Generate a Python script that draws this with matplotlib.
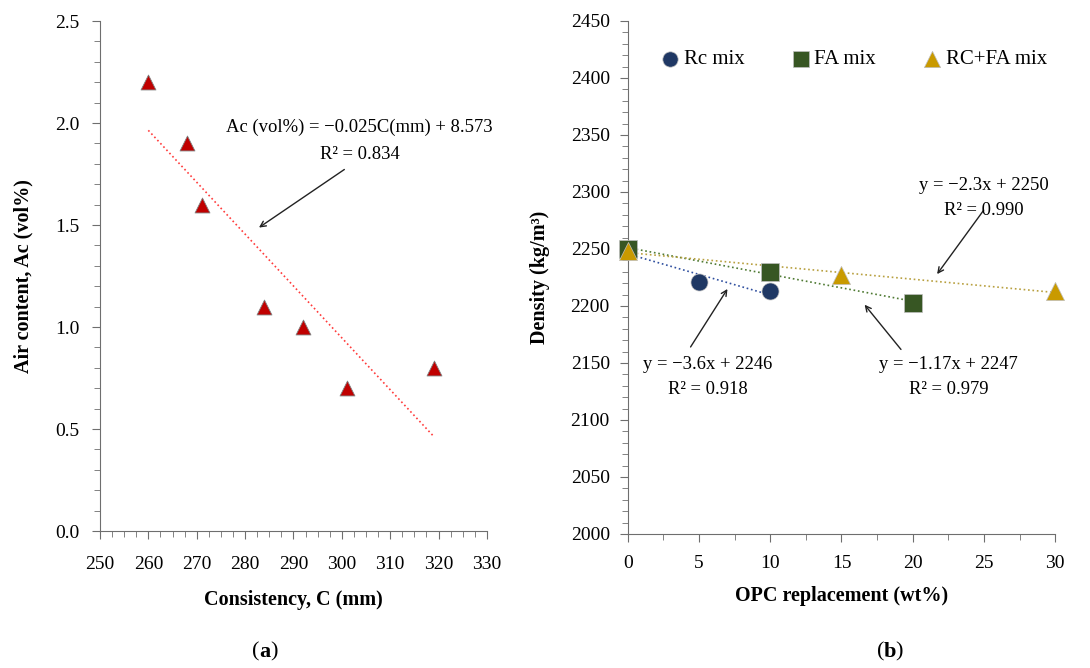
import numpy as np
import matplotlib.pyplot as plt
from matplotlib.ticker import MultipleLocator

plt.rcParams['font.family'] = ['Liberation Serif', 'DejaVu Serif']

# (a) consistency vs air content
consistency = [260, 268, 271, 284, 292, 301, 319]
air_content = [2.2, 1.9, 1.6, 1.1, 1.0, 0.7, 0.8]

# (b) density vs OPC replacement
rc_x = [0, 5, 10]
rc_y = [2249, 2221, 2213]
fa_x = [0, 10, 20]
fa_y = [2250, 2230, 2203]
rcfa_x = [0, 15, 30]
rcfa_y = [2248, 2227, 2213]

spine_col = '#6e6e6e'
fs = 14
afs = 13.4

fig = plt.figure(figsize=(10.9, 6.68), dpi=100)
ax1 = fig.add_axes([0.0917, 0.205, 0.355, 0.7635])
ax2 = fig.add_axes([0.576, 0.2006, 0.392, 0.768])

for ax in (ax1, ax2):
    ax.spines['top'].set_visible(False)
    ax.spines['right'].set_visible(False)
    ax.spines['left'].set_color(spine_col)
    ax.spines['bottom'].set_color(spine_col)
    ax.tick_params(which='both', direction='out', color=spine_col, labelsize=fs)
    ax.tick_params(which='major', length=6)
    ax.tick_params(which='minor', length=4)
ax1.tick_params(axis='x', which='both', pad=12)
ax1.tick_params(axis='y', which='both', pad=9)
ax2.tick_params(axis='x', which='both', pad=9)
ax2.tick_params(axis='y', which='both', pad=7)

# ---- (a)
ax1.scatter(consistency, air_content, marker='^', s=115, color='#c00000',
            edgecolor='#7f7f7f', linewidth=0.6, zorder=3)
k, b = np.polyfit(consistency, air_content, 1)
xs = np.array([min(consistency), max(consistency)])
ax1.plot(xs, k * xs + b, ':', color='#ff3b3b', lw=1.2)
ax1.set_xlim(250, 330)
ax1.set_ylim(0, 2.5)
ax1.xaxis.set_major_locator(MultipleLocator(10))
ax1.xaxis.set_minor_locator(MultipleLocator(2.5))
ax1.yaxis.set_major_locator(MultipleLocator(0.5))
ax1.yaxis.set_minor_locator(MultipleLocator(0.1))
ax1.yaxis.set_major_formatter(plt.FormatStrFormatter('%.1f'))
ax1.set_xlabel('Consistency, C (mm)', fontsize=14.5, fontweight='bold', labelpad=12)
ax1.set_ylabel('Air content, Ac (vol%)', fontsize=14.5, fontweight='bold', labelpad=15)
ax1.annotate('', xy=(282.4, 1.48), xytext=(301, 1.78),
             arrowprops=dict(arrowstyle='->', color='#222222', lw=1.0))
ax1.text(303.7, 1.98, 'Ac (vol%) = \u22120.025C(mm) + 8.573', fontsize=afs,
         ha='center', va='center')
ax1.text(303.7, 1.845, 'R\u00b2 = 0.834', fontsize=afs, ha='center', va='center')

# ---- (b)
series = [
    (rc_x, rc_y, 'o', '#1f3864', '#2f4f9f', 'Rc mix'),
    (fa_x, fa_y, 's', '#375623', '#4f7a33', 'FA mix'),
    (rcfa_x, rcfa_y, '^', '#c99a00', '#b8a040', 'RC+FA mix'),
]
for xv, yv, mk, col, lcol, lab in series:
    ax2.scatter(xv, yv, marker=mk, s=150 if mk != '^' else 170, color=col,
                edgecolor='#bfbfbf', linewidth=0.5, zorder=3, clip_on=False, label=lab)
    k, b = np.polyfit(xv, yv, 1)
    xs = np.array([min(xv), max(xv)])
    ax2.plot(xs, k * xs + b, ':', color=lcol, lw=1.2, zorder=2)

ax2.set_xlim(0, 30)
ax2.set_ylim(2000, 2450)
ax2.xaxis.set_major_locator(MultipleLocator(5))
ax2.xaxis.set_minor_locator(MultipleLocator(2.5))
ax2.yaxis.set_major_locator(MultipleLocator(50))
ax2.yaxis.set_minor_locator(MultipleLocator(10))
ax2.set_xlabel('OPC replacement (wt%)', fontsize=14.5, fontweight='bold', labelpad=10)
ax2.set_ylabel('Density (kg/m\u00b3)', fontsize=14.5, fontweight='bold', labelpad=15)
ax2.legend(loc='center', bbox_to_anchor=(0.528, 0.925), ncol=3, frameon=False,
           fontsize=15, handlelength=1.0, handletextpad=0.15, columnspacing=2.2,
           markerscale=0.9, borderpad=0)

arrow = dict(arrowstyle='->', color='#222222', lw=1.0)
ax2.annotate('', xy=(21.6, 2226), xytext=(25.1, 2286), arrowprops=arrow)
ax2.text(25.0, 2306, 'y = \u22122.3x + 2250', fontsize=afs, ha='center', va='center')
ax2.text(25.0, 2284, 'R\u00b2 = 0.990', fontsize=afs, ha='center', va='center')

ax2.annotate('', xy=(7.1, 2217), xytext=(4.3, 2162), arrowprops=arrow)
ax2.text(5.6, 2149, 'y = \u22123.6x + 2246', fontsize=afs, ha='center', va='center')
ax2.text(5.6, 2127, 'R\u00b2 = 0.918', fontsize=afs, ha='center', va='center')

ax2.annotate('', xy=(16.5, 2203), xytext=(19.3, 2160), arrowprops=arrow)
ax2.text(22.5, 2149, 'y = \u22121.17x + 2247', fontsize=afs, ha='center', va='center')
ax2.text(22.5, 2127, 'R\u00b2 = 0.979', fontsize=afs, ha='center', va='center')

# panel captions
for xc, letter in ((265, 'a'), (890, 'b')):
    xf = xc / 1090
    yf = 1 - 652 / 668
    fig.text(xf, yf, letter, fontsize=16, fontweight='bold', ha='center', va='center')
    fig.text(xf - 0.0052, yf, '(', fontsize=16, ha='right', va='center')
    fig.text(xf + 0.0052, yf, ')', fontsize=16, ha='left', va='center')

fig.savefig('out.png', dpi=100)
